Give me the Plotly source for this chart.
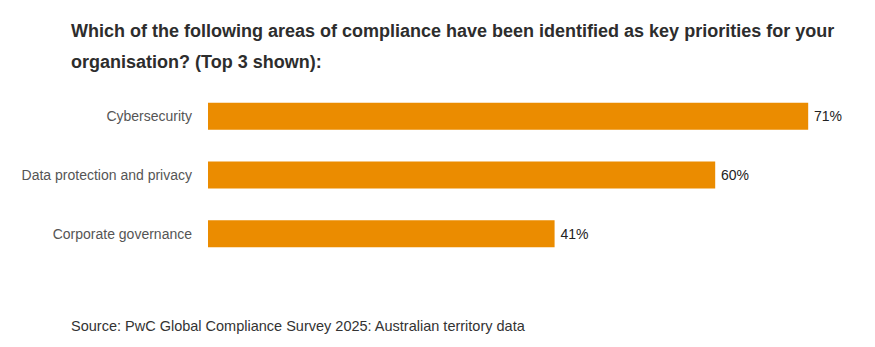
import plotly.graph_objects as go

categories = ["Cybersecurity", "Data protection and privacy", "Corporate governance"]
values = [71, 60, 41]
value_labels = ["71%", "60%", "41%"]

title_line1 = "Which of the following areas of compliance have been identified as key priorities for your"
title_line2 = "organisation? (Top 3 shown):"
source = "Source: PwC Global Compliance Survey 2025: Australian territory data"

fig = go.Figure(go.Bar(
    x=values, y=categories, orientation="h",
    marker=dict(color="#EB8C00", line=dict(width=0)),
    width=0.46,
    text=["\u2009" + v for v in value_labels], textposition="outside", cliponaxis=False,
    textfont=dict(family="Liberation Sans, Arial, sans-serif", size=14, color="#222222"),
    hoverinfo="skip",
))

fig.update_layout(
    width=875, height=347,
    margin=dict(l=208, r=33, t=87, b=84),
    paper_bgcolor="white", plot_bgcolor="white",
    showlegend=False,
    font=dict(family="Liberation Sans, Arial, sans-serif"),
    xaxis=dict(range=[0, 75], visible=False, fixedrange=True),
    yaxis=dict(autorange="reversed", showgrid=False, showline=False, zeroline=False,
               ticks="", ticklabelstandoff=15,
               tickfont=dict(size=14, color="#555555")),
)

# position annotations in pixel terms via paper coordinates
plot_left, plot_w = 208, 875 - 208 - 33
plot_top, plot_h = 87, 347 - 87 - 84
def px_x(x):
    return (x - plot_left) / plot_w
def px_y(y):
    return (plot_top + plot_h - y) / plot_h

fig.update_layout(annotations=[
    dict(text="<b>" + title_line1 + "</b>", xref="paper", yref="paper",
         x=px_x(69), y=px_y(31), xanchor="left", yanchor="middle", showarrow=False,
         font=dict(size=18, color="#2d2d2d")),
    dict(text="<b>" + title_line2 + "</b>", xref="paper", yref="paper",
         x=px_x(69), y=px_y(62), xanchor="left", yanchor="middle", showarrow=False,
         font=dict(size=18, color="#2d2d2d")),
    dict(text=source, xref="paper", yref="paper",
         x=px_x(69), y=px_y(326), xanchor="left", yanchor="middle", showarrow=False,
         font=dict(size=14.5, color="#333333")),
])

fig.write_html("out.html")
